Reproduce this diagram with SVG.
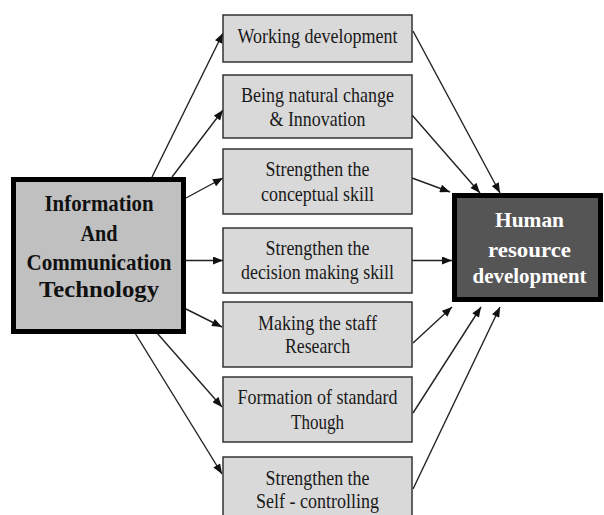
<svg xmlns="http://www.w3.org/2000/svg" width="604" height="515" viewBox="0 0 604 515">
  <defs>
    <marker id="arrow" viewBox="0 0 10 8" refX="10" refY="4" markerWidth="11" markerHeight="8" markerUnits="userSpaceOnUse" orient="auto">
      <path d="M0,0 L10,4 L0,8 Z" fill="#111"/>
    </marker>
  </defs>
  <style>
    .step rect { fill: #d9d9d9; stroke: #333; stroke-width: 1.5; }
    .step text { font-family: "Liberation Serif", "Times New Roman", serif; font-size: 22px; fill: #1a1a1a; text-anchor: middle; }
    .src rect { fill: #c0c0c0; stroke: #000; stroke-width: 5; }
    .src text { font-family: "Liberation Serif", "Times New Roman", serif; font-size: 24px; font-weight: bold; fill: #111; text-anchor: middle; }
    .dst rect { fill: #555555; stroke: #000; stroke-width: 5; }
    .dst text { font-family: "Liberation Serif", "Times New Roman", serif; font-size: 22px; font-weight: bold; fill: #fff; text-anchor: middle; }
    .links line { stroke: #222; stroke-width: 1.4; marker-end: url(#arrow); }
  </style>
  <rect width="604" height="515" fill="#fff"/>

  <!-- connectors -->
  <g class="links">
    <line x1="152" y1="177" x2="223" y2="33"/>
    <line x1="172" y1="177" x2="223" y2="110"/>
    <line x1="186" y1="198" x2="223" y2="178"/>
    <line x1="186" y1="260.5" x2="223" y2="260.5"/>
    <line x1="186" y1="309" x2="222" y2="327"/>
    <line x1="157" y1="333" x2="222" y2="407"/>
    <line x1="135" y1="333" x2="222" y2="474"/>

    <line x1="413" y1="31" x2="500" y2="193"/>
    <line x1="412" y1="115" x2="480" y2="193"/>
    <line x1="412" y1="178" x2="450" y2="192"/>
    <line x1="412" y1="260.5" x2="452" y2="260.5"/>
    <line x1="413" y1="343" x2="452" y2="307"/>
    <line x1="413" y1="413" x2="481" y2="307"/>
    <line x1="413" y1="489" x2="500" y2="307"/>
  </g>

  <!-- source node -->
  <g id="ict" class="src">
    <rect x="13.5" y="179.5" width="170" height="152"/>
    <text x="99" y="211" textLength="109" lengthAdjust="spacingAndGlyphs">Information</text>
    <text x="99" y="241" textLength="37" lengthAdjust="spacingAndGlyphs">And</text>
    <text x="99" y="270" textLength="145" lengthAdjust="spacingAndGlyphs">Communication</text>
    <text x="99" y="297" font-size="23" textLength="120" lengthAdjust="spacingAndGlyphs">Technology</text>
  </g>

  <!-- target node -->
  <g id="hrd" class="dst">
    <rect x="454.5" y="195.5" width="146" height="104"/>
    <text x="529.5" y="227" textLength="69" lengthAdjust="spacingAndGlyphs">Human</text>
    <text x="529.5" y="257" textLength="83" lengthAdjust="spacingAndGlyphs">resource</text>
    <text x="529.5" y="283" textLength="114" lengthAdjust="spacingAndGlyphs">development</text>
  </g>

  <!-- intermediate steps -->
  <g id="working-development" class="step">
    <rect x="223" y="15" width="189" height="47"/>
    <text x="317.5" y="43" textLength="160" lengthAdjust="spacingAndGlyphs">Working development</text>
  </g>
  <g id="natural-change" class="step">
    <rect x="223" y="75" width="189" height="63"/>
    <text x="317.5" y="102" textLength="153" lengthAdjust="spacingAndGlyphs">Being natural change</text>
    <text x="317.5" y="126" textLength="96" lengthAdjust="spacingAndGlyphs">&amp; Innovation</text>
  </g>
  <g id="conceptual-skill" class="step">
    <rect x="223" y="149" width="189" height="65"/>
    <text x="317.5" y="176" textLength="104" lengthAdjust="spacingAndGlyphs">Strengthen the</text>
    <text x="317.5" y="201" textLength="113" lengthAdjust="spacingAndGlyphs">conceptual skill</text>
  </g>
  <g id="decision-skill" class="step">
    <rect x="223" y="228" width="189" height="65"/>
    <text x="317.5" y="255" textLength="104" lengthAdjust="spacingAndGlyphs">Strengthen the</text>
    <text x="317.5" y="279" textLength="153" lengthAdjust="spacingAndGlyphs">decision making skill</text>
  </g>
  <g id="staff-research" class="step">
    <rect x="223" y="302" width="189" height="65"/>
    <text x="317.5" y="330" textLength="119" lengthAdjust="spacingAndGlyphs">Making the staff</text>
    <text x="317.5" y="353" textLength="65" lengthAdjust="spacingAndGlyphs">Research</text>
  </g>
  <g id="standard-thought" class="step">
    <rect x="223" y="377" width="189" height="65"/>
    <text x="317.5" y="404" textLength="160" lengthAdjust="spacingAndGlyphs">Formation of standard</text>
    <text x="317.5" y="429" textLength="53" lengthAdjust="spacingAndGlyphs">Though</text>
  </g>
  <g id="self-controlling" class="step">
    <rect x="223" y="457" width="189" height="70"/>
    <text x="317.5" y="485" textLength="104" lengthAdjust="spacingAndGlyphs">Strengthen the</text>
    <text x="317.5" y="508" textLength="123" lengthAdjust="spacingAndGlyphs">Self - controlling</text>
  </g>
</svg>
